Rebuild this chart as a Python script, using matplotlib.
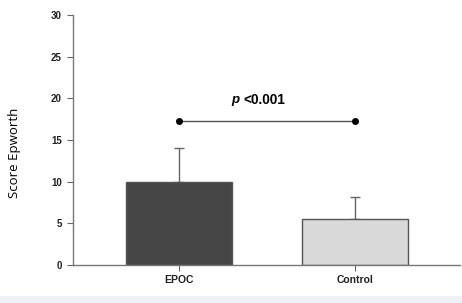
import matplotlib
matplotlib.use("Agg")
import matplotlib.pyplot as plt
from matplotlib.patches import Rectangle

categories = ["EPOC", "Control"]
means = [10.0, 5.5]
sd_upper = [4.0, 2.7]
bar_colors = ["#454545", "#d9d9d9"]
y_ticks = [0, 5, 10, 15, 20, 25, 30]
sig_y = 17.3
sig_text_y = 19.8

fig = plt.figure(figsize=(4.62, 3.03), dpi=100)
fig.patch.set_facecolor("white")
fig.patches.append(Rectangle((0, 0), 1, 7 / 303, transform=fig.transFigure,
                             facecolor="#f0f1f6", edgecolor="none", zorder=0))

ax = fig.add_axes([73 / 462, 38 / 303, 387 / 462, 250 / 303])
x = list(range(len(categories)))
ax.bar(x, means, width=0.6, color=bar_colors, edgecolor="#555555", linewidth=1.0, zorder=2)
ax.errorbar(x, means, yerr=[[0] * len(means), sd_upper], fmt="none",
            ecolor="#666666", elinewidth=1.0, capsize=3.5, capthick=1.0, zorder=1)

ax.plot([x[0], x[1]], [sig_y, sig_y], color="#555555", lw=1.0, zorder=3)
ax.plot([x[0], x[1]], [sig_y, sig_y], "o", color="black", ms=4, zorder=4)
p_txt = ax.text(0.295, sig_text_y, "p", ha="left", va="center", fontsize=9.5,
                fontweight="bold", fontstyle="italic", family="Liberation Sans")
ax.annotate("<0.001", xy=(1, 0.5), xycoords=p_txt, xytext=(3.5, 0),
            textcoords="offset points", ha="left", va="center", fontsize=9.8,
            fontweight="bold", family="Liberation Sans")

ax.set_xlim(-0.602, 1.597)
ax.set_ylim(0, 30)
ax.set_yticks(y_ticks)
ax.set_xticks(x)
ax.set_xticklabels(categories)
for lab in ax.get_yticklabels():
    lab.set_fontweight("bold")
    lab.set_family("Liberation Sans")
    lab.set_fontsize(7)
    lab.set_color("#222222")
for lab in ax.get_xticklabels():
    lab.set_fontweight("bold")
    lab.set_family("Liberation Sans")
    lab.set_fontsize(7.5)
    lab.set_color("#222222")
ax.tick_params(axis="both", direction="out", length=4, width=0.8, color="#666666", pad=4)
ax.tick_params(axis="x", pad=3)
for s in ["top", "right"]:
    ax.spines[s].set_visible(False)
for s in ["left", "bottom"]:
    ax.spines[s].set_color("#777777")
    ax.spines[s].set_linewidth(1.0)
ax.set_ylabel("Score Epworth", fontsize=9.5, family="Open Sans")
ax.yaxis.set_label_coords(-0.134, 0.448)

fig.savefig("out.png", dpi=100)
